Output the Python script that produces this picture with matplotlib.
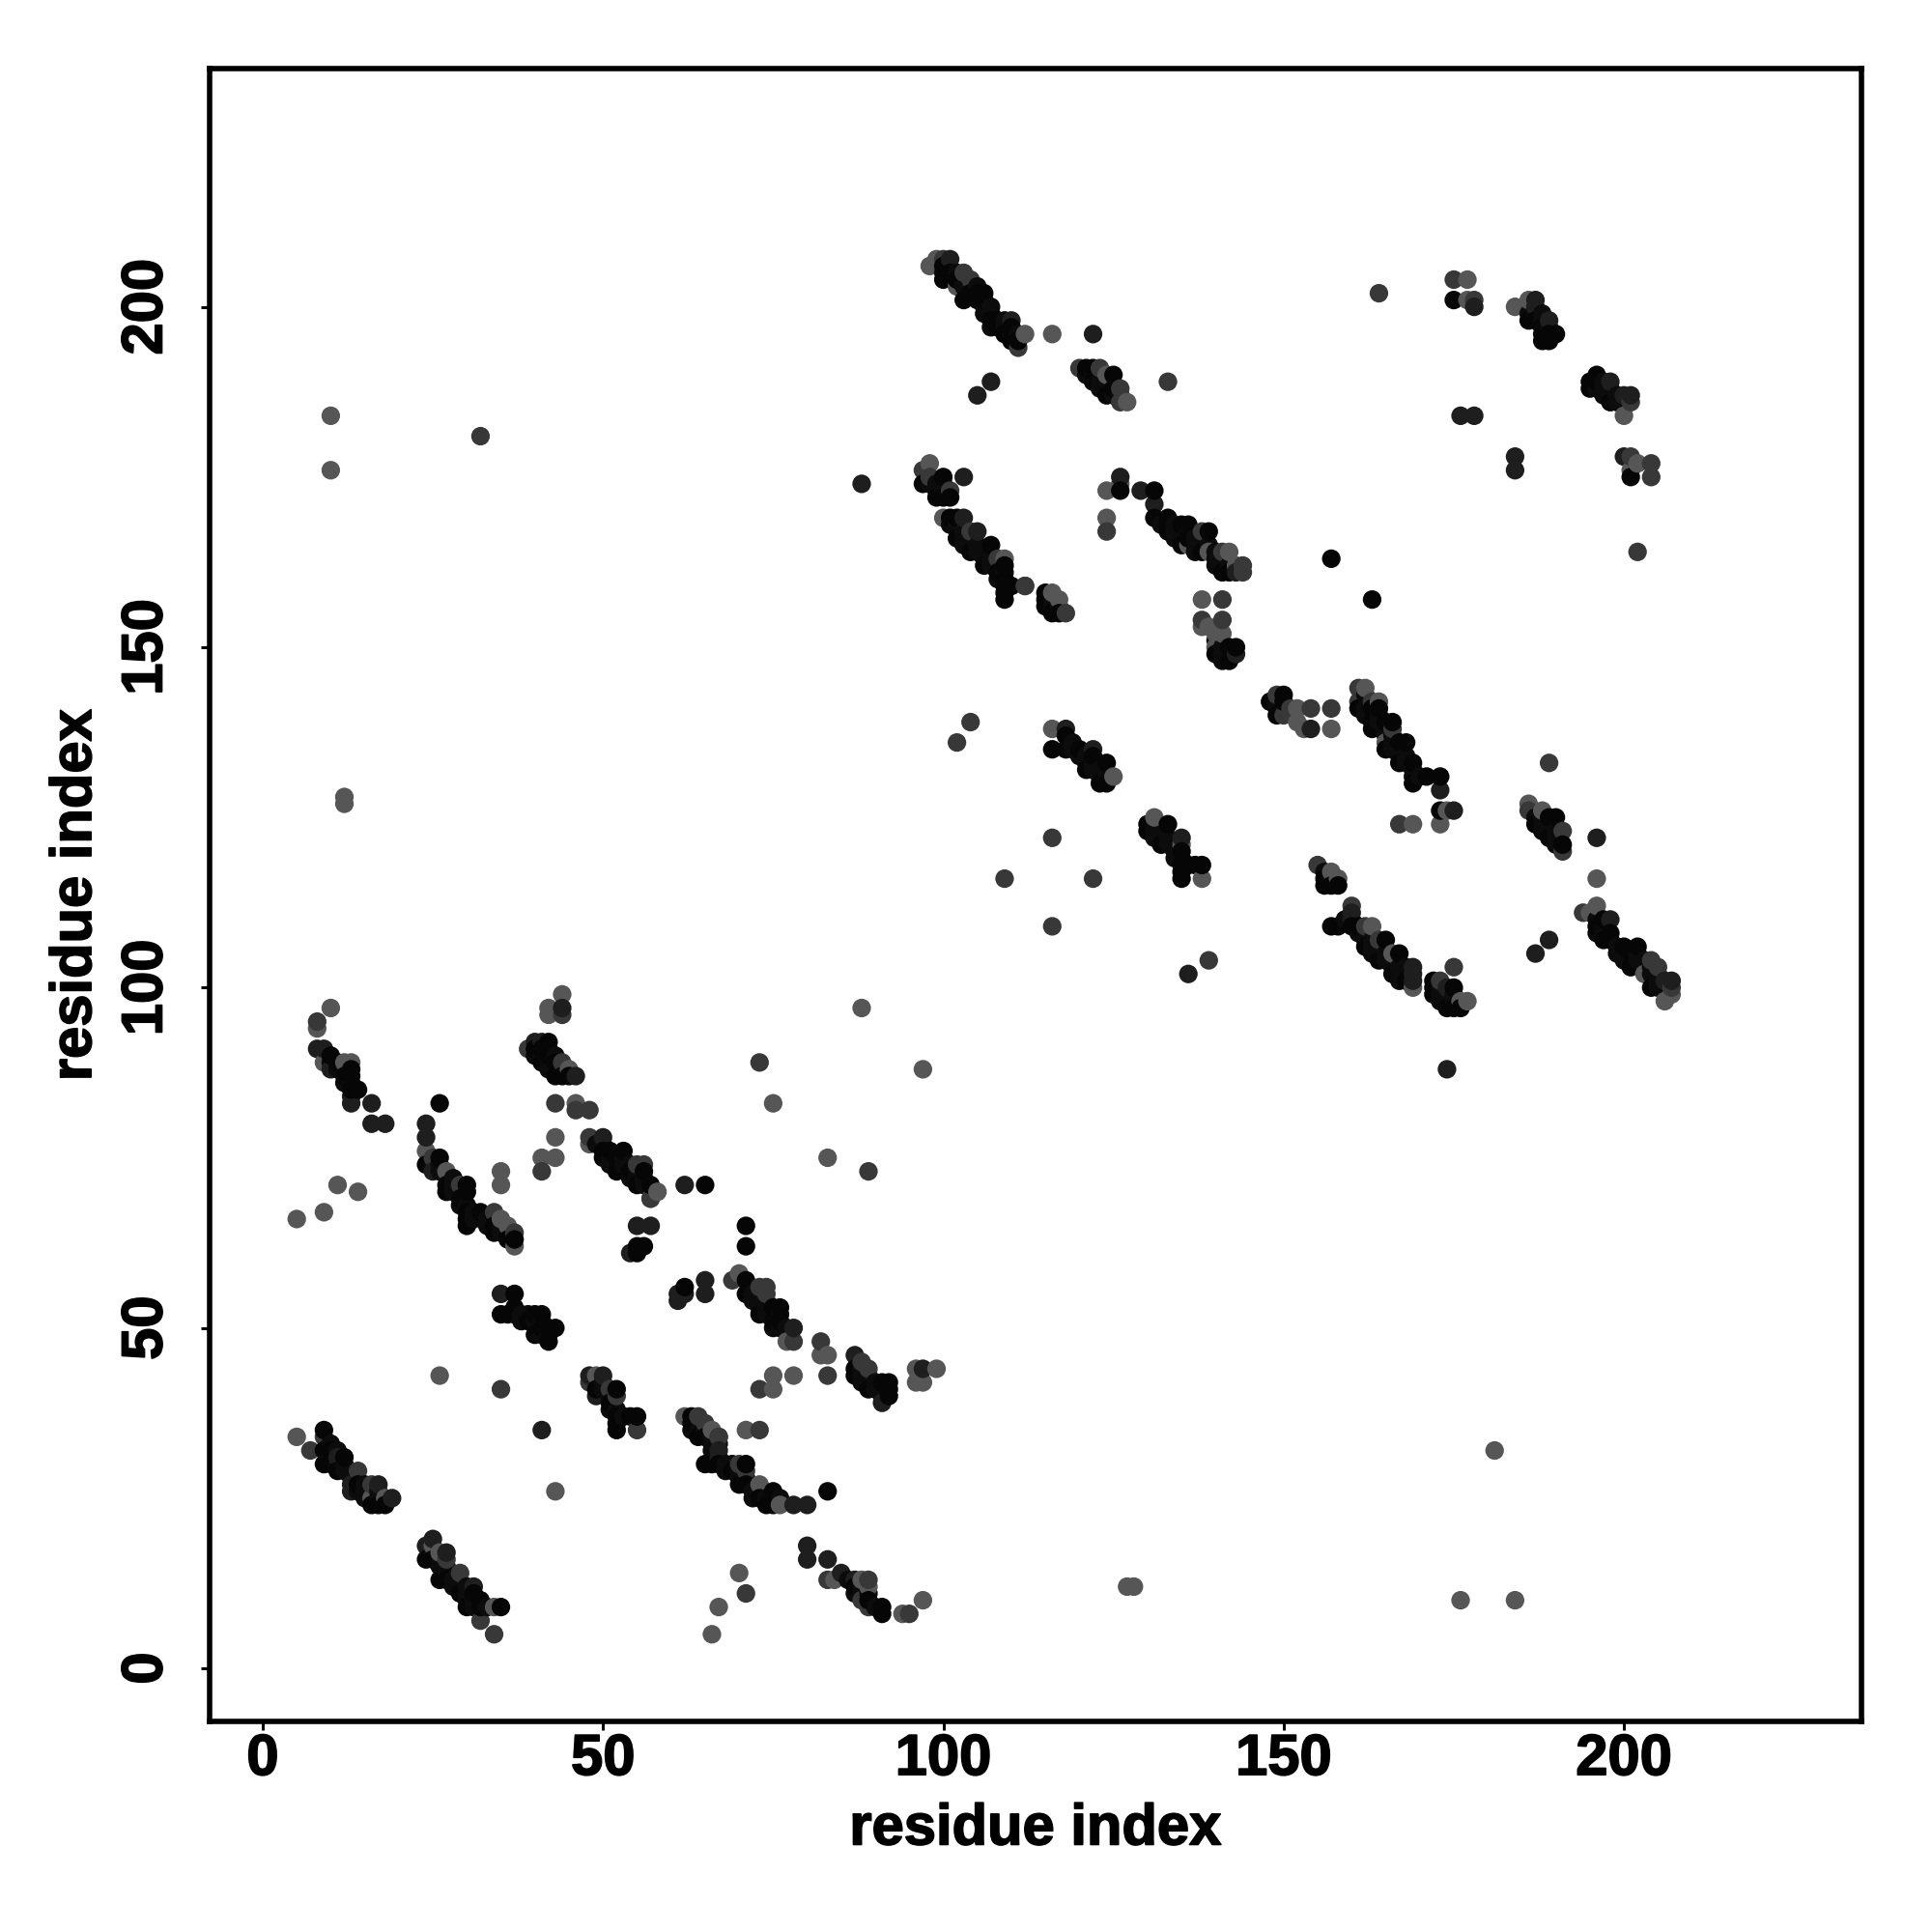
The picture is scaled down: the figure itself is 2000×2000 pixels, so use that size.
import matplotlib
matplotlib.use('Agg')
import matplotlib.pyplot as plt
import matplotlib.patheffects as pe

plt.rcParams['font.family'] = ['Liberation Sans', 'DejaVu Sans']

# contacts, one list per grey level: (residue, residue)
light = [(10,97),(8,94),(9,89),(12,89),(13,89),(24,76),(27,73),(35,66),(36,65),(37,62),
         (35,73),(35,71),(11,71),(14,70),(9,67),(5,66),(44,99),(42,97),(42,96),(45,88),
         (46,83),(43,78),(41,75),(43,75),(48,77),(58,70),(57,69),(5,34),(16,25),(18,25),
         (25,18),(26,17),(26,43),(43,26),(34,9),(67,9),(66,5),(49,43),(62,37),(66,35),
         (71,35),(73,27),(76,24),(75,83),(83,75),(97,88),(70,58),(77,48),(82,46),(83,46),
         (96,44),(99,44),(96,42),(97,42),(75,43),(78,43),(75,41),(84,13),(88,13),(89,12),
         (94,8),(97,10),(70,14),(10,184),(10,176),(12,128),(12,127),(88,97),(127,12),(128,12),
         (176,10),(184,10),(181,32),(98,206),(99,207),(102,203),(112,196),(116,196),(124,190),
         (127,186),(98,177),(100,169),(109,163),(116,158),(117,157),(124,173),(124,169),
         (126,174),(136,165),(139,164),(142,164),(143,162),(138,157),(138,153),(139,153),
         (140,152),(140,150),(141,152),(152,141),(152,139),(153,138),(157,138),(162,144),
         (164,142),(165,136),(174,126),(173,124),(169,124),(186,127),(188,126),(196,116),
         (196,112),(195,111),(157,117),(158,116),(163,109),(166,105),(169,100),(176,98),
         (177,98),(203,102),(207,99),(206,98),(116,138),(125,131),(131,125),(135,121),
         (138,116),(177,204),(177,201),(184,200),(186,201),(200,184),(202,177),(201,176)]
mid = [(8,95),(25,75),(29,71),(34,67),(37,64),(44,96),(39,91),(44,89),(43,83),(46,82),
       (48,82),(41,73),(48,78),(55,74),(56,74),(57,69),(7,32),(9,34),(14,29),(16,27),
       (27,16),(29,14),(32,7),(34,5),(35,41),(48,42),(51,41),(52,40),(55,35),(64,37),
       (65,36),(67,34),(70,30),(71,29),(73,41),(73,35),(73,89),(89,73),(69,57),(73,56),
       (74,56),(74,55),(78,48),(82,48),(83,43),(88,45),(89,44),(83,13),(89,13),(88,10),
       (89,9),(95,8),(71,11),(32,181),(67,34),(164,202),(116,109),(102,136),(104,139),
       (139,104),(100,207),(103,205),(104,204),(111,194),(133,189),(120,191),(123,191),
       (126,188),(126,186),(118,155),(112,159),(97,176),(98,175),(101,173),(104,167),
       (108,163),(124,167),(138,167),(141,164),(144,162),(144,161),(141,157),(138,154),
       (141,154),(149,143),(150,140),(151,141),(154,141),(157,141),(161,144),(161,142),
       (163,142),(166,138),(167,124),(189,133),(186,126),(191,123),(191,120),(194,111),
       (155,118),(160,112),(162,109),(164,107),(175,103),(173,101),(204,104),(205,103),
       (207,100),(116,122),(122,116),(109,116),(175,204),(178,201),(201,186),(201,178),
       (204,177),(204,175),(202,164),(112,159)]
dark = [(8,91),(9,91),(10,88),(13,83),(16,83),(16,80),(18,80),(24,80),(24,78),(25,73),
        (13,84),(44,97),(40,92),(41,92),(46,87),(50,78),(55,65),(57,65),(54,61),(35,55),
        (62,71),(65,57),(65,55),(61,55),(61,54),(62,55),(11,31),(13,26),(13,27),(17,27),
        (19,25),(24,18),(25,19),(27,17),(31,12),(41,35),(48,43),(50,43),(49,40),(78,50),
        (80,18),(80,16),(83,16),(85,14),(87,13),(78,24),(80,24),(67,32),(67,31),(87,46),
        (91,39),(97,44),(105,187),(107,189),(122,196),(88,174),(136,102),(174,88),(101,207),
        (110,198),(103,169),(103,175),(105,167),(129,173),(131,171),(126,175),(143,149),
        (143,161),(154,138),(173,129),(175,126),(189,107),(187,105),(196,122),(198,110),
        (135,122),(118,138),(122,135),(176,184),(178,184),(178,200),(187,201),(187,200),
        (189,198),(198,189),(200,187),(201,187),(184,178),(184,176),(200,178),(169,103),
        (169,102),(169,101),(206,101),(207,101),(160,111),(160,110),(174,100)]
black = [(10,90),(11,89),(12,87),(13,87),(13,88),(13,85),(14,85),(26,83),(24,74),(26,75),
         (27,71),(27,70),(30,71),(30,70),(29,69),(30,67),(32,67),(30,66),(30,65),(34,65),
         (34,64),(36,63),(37,63),(42,92),(40,91),(41,91),(42,91),(42,90),(41,89),(43,89),
         (43,87),(44,87),(45,87),(50,75),(50,76),(51,76),(53,76),(52,73),(52,75),(54,73),
         (56,73),(55,71),(57,71),(65,71),(55,62),(56,62),(55,61),(37,55),(37,53),(35,52),
         (36,52),(37,52),(39,51),(41,52),(40,52),(40,49),(41,50),(42,50),(42,48),(43,50),
         (62,56),(9,35),(9,32),(9,30),(10,32),(10,31),(10,30),(11,29),(12,31),(14,27),
         (16,24),(17,24),(18,24),(24,16),(25,16),(26,13),(27,13),(29,11),(31,11),(30,9),
         (32,10),(32,9),(35,9),(49,41),(52,41),(51,39),(52,37),(52,36),(52,35),(54,37),
         (55,37),(63,37),(63,36),(64,34),(65,34),(67,30),(65,30),(66,30),(69,29),(71,30),
         (70,27),(71,27),(73,25),(75,26),(74,24),(75,24),(83,26),(71,65),(71,62),(71,57),
         (71,55),(73,52),(75,53),(76,53),(75,51),(76,51),(87,44),(87,43),(89,41),(92,42),
         (91,42),(92,40),(92,41),(87,12),(89,10),(91,9),(91,8),(100,206),(100,204),(101,205),
         (102,204),(103,201),(104,202),(105,202),(106,202),(105,201),(106,201),(107,198),
         (108,198),(108,197),(110,197),(109,196),(110,195),(111,195),(121,191),(122,191),
         (122,189),(125,190),(124,187),(125,188),(100,175),(97,174),(99,172),(100,172),
         (101,172),(101,169),(102,169),(102,166),(104,164),(107,165),(106,162),(109,162),
         (108,161),(109,160),(109,159),(109,158),(109,157),(110,159),(115,158),(115,156),
         (116,155),(117,155),(157,163),(163,157),(126,173),(131,173),(131,169),(133,169),
         (133,168),(133,167),(135,168),(136,168),(135,165),(136,166),(139,167),(138,164),
         (141,161),(142,161),(143,150),(142,148),(142,150),(140,149),(148,142),(150,143),
         (149,140),(150,142),(161,141),(163,141),(164,141),(163,139),(163,138),(165,139),
         (166,139),(165,135),(167,136),(168,136),(167,133),(169,133),(169,130),(171,131),
         (173,131),(173,126),(187,124),(189,125),(190,125),(189,122),(191,121),(197,110),
         (196,109),(197,107),(198,108),(198,107),(200,106),(202,106),(201,103),(201,105),
         (156,116),(156,115),(158,115),(157,115),(160,109),(157,109),(158,109),(161,109),
         (162,106),(165,107),(164,104),(167,105),(166,102),(168,101),(172,101),(172,100),
         (172,99),(175,100),(174,97),(175,97),(176,97),(204,100),(118,137),(116,135),(118,135),
         (120,135),(122,134),(121,132),(124,133),(123,130),(124,130),(130,124),(130,123),
         (132,121),(133,124),(135,120),(135,118),(135,117),(135,116),(136,118),(137,118),
         (138,118),(175,201),(186,198),(187,198),(188,197),(188,195),(189,195),(190,196),
         (189,196),(196,190),(195,189),(195,188),(196,189),(198,186),(201,175)]
# contacts hidden inside the dense stripes, estimated from the overlaps
dense = [(11,88),(12,88),(10,89),(12,86),(13,86),(25,74),(26,74),(26,73),(28,71),(28,70),
         (29,70),(28,72),(29,68),(30,68),(31,67),(31,66),(33,66),(33,65),(35,65),(35,64),
         (36,64),(41,90),(40,90),(43,88),(44,88),(42,88),(42,89),(43,90),(49,77),(50,77),
         (51,75),(51,74),(52,74),(53,74),(53,75),(54,74),(55,72),(56,72),(56,71),(54,72),
         (55,73),(38,52),(38,51),(39,52),(40,51),(41,49),(41,51),(42,49),(10,33),(11,32),
         (11,30),(12,30),(12,29),(13,28),(14,26),(15,26),(15,27),(15,25),(16,26),(17,25),
         (17,26),(25,17),(26,16),(26,15),(27,15),(27,14),(28,13),(28,12),(29,12),(30,12),
         (30,11),(30,10),(31,10),(31,9),(33,9),(50,42),(50,41),(51,40),(51,38),(52,38),
         (53,37),(63,35),(64,35),(65,35),(66,33),(66,32),(66,34),(67,33),(68,30),(69,30),
         (68,29),(70,29),(70,28),(71,28),(72,26),(72,25),(74,25),(76,25),(72,55),(72,54),
         (73,54),(73,53),(74,53),(74,52),(74,54),(75,52),(76,52),(75,50),(76,50),(77,50),
         (88,44),(88,43),(88,42),(89,43),(90,42),(90,41),(91,41),(91,40),(87,11),(88,11),
         (88,12),(89,11),(90,9),(86,13),(100,205),(102,205),(103,203),(104,203),(105,203),
         (106,200),(107,200),(106,199),(107,199),(109,197),(109,198),(111,196),(110,196),
         (107,197),(121,190),(122,190),(123,189),(123,188),(124,188),(125,187),(126,187),
         (98,174),(99,174),(99,173),(100,173),(100,174),(101,168),(102,168),(103,167),
         (103,166),(103,165),(104,165),(105,165),(105,164),(106,164),(106,163),(107,163),
         (107,162),(108,162),(108,160),(109,161),(115,157),(116,156),(117,156),(132,168),
         (134,168),(134,167),(134,166),(135,167),(136,167),(137,166),(137,165),(137,164),
         (138,165),(138,166),(139,165),(140,164),(140,163),(140,162),(141,162),(141,163),
         (142,162),(140,151),(141,149),(141,150),(141,148),(149,142),(149,141),(150,141),
         (162,141),(162,140),(162,143),(163,140),(164,140),(164,139),(165,138),(165,137),
         (166,137),(166,136),(166,135),(167,135),(167,134),(168,134),(168,133),(169,132),
         (170,131),(169,131),(187,125),(188,125),(188,124),(188,123),(189,124),(189,123),
         (190,123),(190,122),(190,121),(196,110),(196,108),(197,109),(197,108),(199,106),
         (199,105),(200,105),(200,104),(201,104),(202,105),(202,104),(203,103),(203,104),
         (204,103),(204,102),(205,102),(205,101),(205,100),(206,100),(156,117),(157,116),
         (159,110),(161,108),(162,108),(162,107),(163,107),(163,106),(163,105),(164,106),
         (164,105),(165,105),(165,104),(166,104),(166,103),(167,103),(167,102),(168,103),
         (168,102),(167,101),(173,99),(173,100),(173,98),(174,98),(174,99),(175,98),(175,99),
         (119,136),(119,135),(120,134),(121,134),(121,133),(122,133),(122,132),(123,132),
         (123,131),(124,131),(131,123),(131,122),(132,122),(133,122),(133,121),(134,121),
         (134,120),(134,119),(135,119),(186,199),(187,199),(188,199),(188,198),(188,196),
         (189,197),(196,188),(197,189),(197,188),(197,187),(198,188),(198,187),(199,187),
         (199,186),(200,186)]

shades = [('#0c0c0c', dense), ('#565656', light), ('#383838', mid), ('#1e1e1e', dark), ('#060606', black)]
tick_values = [0, 50, 100, 150, 200]

points = []
for colour, pts in shades:
    for p in pts:
        points.append((p[0], p[1], colour))
points.sort(key=lambda p: p[0])

fig = plt.figure(figsize=(10, 10), dpi=200)
ax = fig.add_axes([217 / 2000, 1 - 1782 / 2000, 1710 / 2000, 1711 / 2000])
ax.scatter([p[0] for p in points], [p[1] for p in points], c=[p[2] for p in points],
           s=48, linewidths=0, clip_on=False)

ax.set_xlim(-7.8, 234.9)
ax.set_ylim(-7.8, 235)
ax.set_xticks(tick_values)
ax.set_yticks(tick_values)
ax.tick_params(length=3.2, width=1.1, labelsize=21.5)
ax.tick_params(axis='x', pad=1.2)
ax.tick_params(axis='y', pad=10.3)
heavy = [pe.withStroke(linewidth=0.6, foreground='black')]
for label in ax.get_xticklabels():
    label.set_fontweight('bold')
    label.set_path_effects(heavy)
for label in ax.get_yticklabels():
    label.set_fontweight('bold')
    label.set_rotation(90)
    label.set_verticalalignment('center')
    label.set_path_effects(heavy)
for spine in ax.spines.values():
    spine.set_linewidth(2)

ax.set_xlabel('residue index', fontsize=21.5, fontweight='bold', labelpad=6.2, path_effects=heavy)
ax.set_ylabel('residue index', fontsize=21.5, fontweight='bold', labelpad=6.6, path_effects=heavy)

fig.savefig('out.png', dpi=200, facecolor='white')
